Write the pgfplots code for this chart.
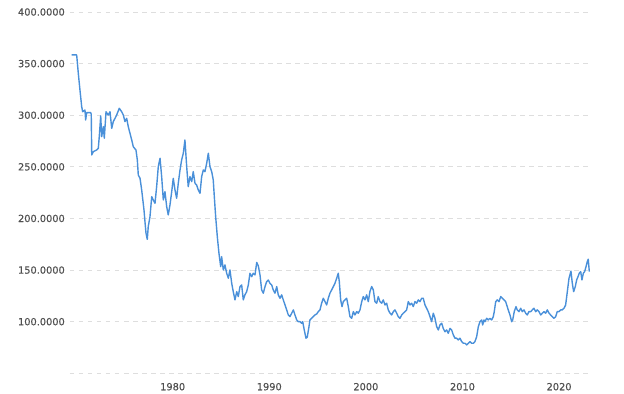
\documentclass[border=0pt]{standalone}
\usepackage{fontspec}
\setmainfont{DejaVu Sans}
\newfontfamily\ticksfont[FakeBold=0.35]{DejaVu Sans}
\usepackage{pgfplots}
\pgfplotsset{compat=1.18}
\definecolor{linecol}{RGB}{74,144,217}
\definecolor{gridcol}{RGB}{222,222,222}
\definecolor{textcol}{RGB}{80,80,80}
\begin{document}
\begin{tikzpicture}
\begin{axis}[
  scale only axis,
  width=519.3pt, height=361.3pt,
  xmin=1969.37, xmax=2023.13,
  ymin=50, ymax=400,
  axis line style={draw=none},
  tick style={draw=none},
  xtick={1980,1990,2000,2010,2020},
  xticklabels={1980,1990,2000,2010,2020},
  ytick={50,100,150,200,250,300,350,400},
  yticklabels={{},100.0000,150.0000,200.0000,250.0000,300.0000,350.0000,400.0000},
  ymajorgrids,
  major grid style={gridcol, line width=0.9pt, dash pattern=on 4.5pt off 4.5pt},
  ticklabel style={font=\ticksfont\fontsize{9.8}{12}\selectfont, text=textcol},
  yticklabel style={inner sep=0pt, anchor=east, xshift=-5pt},
  xticklabel style={inner sep=0pt, anchor=north, yshift=-9.5pt},
  clip=false,
]
\addplot[linecol, line width=1.4pt, line join=round] coordinates {
(1969.54,358.4)(1970.06,358.4)(1970.23,340.6)(1970.40,324.5)(1970.58,308.3)(1970.68,303.4)
(1970.92,305.0)(1970.99,295.4)(1971.10,302.5)(1971.51,302.5)(1971.57,301.0)(1971.62,261.5)
(1971.78,264.7)(1972.13,266.3)(1972.30,268.0)(1972.40,279.2)(1972.55,299.3)(1972.65,279.2)
(1972.82,289.0)(1972.92,277.7)(1973.10,303.4)(1973.33,300.2)(1973.51,303.4)(1973.69,287.3)
(1973.85,293.8)(1974.03,297.0)(1974.20,300.2)(1974.47,306.7)(1974.72,303.4)(1974.89,300.2)
(1975.06,293.8)(1975.24,297.0)(1975.40,289.0)(1975.58,282.5)(1975.76,276.0)(1975.92,269.5)
(1976.20,266.3)(1976.34,256.7)(1976.44,242.1)(1976.62,238.9)(1976.79,227.6)(1976.89,219.6)
(1977.03,208.2)(1977.16,193.7)(1977.24,185.6)(1977.37,179.8)(1977.47,192.0)(1977.65,201.7)
(1977.83,221.1)(1977.99,217.9)(1978.17,214.7)(1978.34,230.8)(1978.51,250.2)
(1978.69,258.3)(1978.86,240.5)(1979.03,217.9)(1979.20,226.0)(1979.38,211.4)(1979.54,203.4)
(1979.72,213.1)(1979.90,226.0)(1980.06,238.9)(1980.24,227.6)(1980.41,219.6)(1980.58,234.1)
(1980.76,247.0)(1980.93,256.7)(1981.10,263.2)(1981.27,276.0)(1981.45,250.2)(1981.61,230.8)
(1981.79,240.5)(1981.97,235.7)(1982.13,245.3)(1982.31,234.1)(1982.48,232.4)(1982.65,227.6)
(1982.83,224.4)(1983.00,240.5)(1983.17,247.0)(1983.34,245.3)(1983.52,253.4)(1983.69,263.2)
(1983.86,250.2)(1984.04,245.3)(1984.20,237.3)(1984.31,221.1)(1984.45,201.7)(1984.62,182.4)
(1984.79,166.3)(1984.97,153.3)(1985.07,163.0)(1985.24,150.1)(1985.41,155.0)(1985.59,146.9)
(1985.76,142.1)(1985.93,150.1)(1986.11,137.2)(1986.27,129.1)(1986.45,121.1)(1986.63,129.1)
(1986.79,124.3)(1986.97,134.0)(1987.14,135.6)(1987.31,121.1)(1987.48,126.0)(1987.66,129.1)
(1987.83,135.6)(1988.00,146.9)(1988.18,143.6)(1988.34,146.9)(1988.52,145.3)(1988.70,157.4)
(1988.86,154.2)(1989.04,145.3)
(1989.21,130.8)(1989.38,127.6)(1989.56,134.0)(1989.73,138.8)(1989.90,140.4)(1990.07,137.2)
(1990.25,135.6)(1990.41,130.8)(1990.59,127.6)(1990.77,134.0)(1990.93,126.0)(1991.11,122.7)
(1991.28,126.0)(1991.45,121.1)(1991.63,116.2)(1991.80,111.4)(1991.97,106.5)(1992.14,104.9)
(1992.32,108.2)(1992.49,111.4)(1992.66,106.5)(1992.84,101.7)(1993.00,100.0)(1993.18,100.0)
(1993.35,98.5)(1993.46,100.0)(1993.62,92.0)(1993.80,84.0)(1993.93,84.9)(1994.11,95.2)
(1994.21,101.7)(1994.39,103.3)(1994.56,104.9)(1994.73,106.5)(1994.91,107.5)(1995.07,109.7)
(1995.25,111.4)(1995.42,117.9)(1995.59,122.7)(1995.77,119.4)(1995.94,116.2)(1996.11,122.7)
(1996.28,127.6)(1996.46,130.8)(1996.63,134.0)(1996.80,137.2)(1996.98,142.1)(1997.14,146.9)
(1997.25,138.8)(1997.39,121.1)(1997.53,114.6)(1997.66,119.4)(1997.84,121.1)(1998.01,122.7)
(1998.18,114.6)(1998.35,104.9)(1998.53,103.3)(1998.70,109.7)(1998.87,106.5)(1999.05,109.7)
(1999.21,108.2)(1999.39,111.4)(1999.57,119.4)(1999.73,124.3)(1999.91,121.1)(2000.08,126.0)
(2000.25,119.4)(2000.42,129.1)(2000.60,134.0)(2000.77,130.8)(2000.94,119.4)(2001.12,117.9)
(2001.28,124.3)(2001.46,119.4)(2001.64,117.9)(2001.80,121.1)(2001.98,116.2)(2002.15,117.9)
(2002.32,111.4)(2002.50,108.2)(2002.67,106.5)(2002.84,109.7)(2003.01,111.4)(2003.19,108.2)
(2003.35,104.9)(2003.53,103.3)(2003.71,106.5)(2003.87,108.2)(2004.05,109.7)(2004.22,111.4)
(2004.39,119.4)(2004.57,116.2)(2004.74,117.9)(2004.91,114.6)(2005.08,119.4)(2005.26,117.9)
(2005.43,121.1)(2005.60,119.4)(2005.78,122.7)(2005.94,122.7)(2006.12,116.2)(2006.29,113.0)
(2006.46,109.7)(2006.64,104.9)(2006.81,100.0)(2006.98,108.2)(2007.15,103.3)(2007.33,95.2)
(2007.50,92.0)(2007.67,96.8)(2007.85,98.5)(2008.01,93.5)(2008.19,90.2)(2008.36,92.0)
(2008.53,88.8)(2008.71,93.5)(2008.88,92.0)(2009.05,87.2)(2009.22,84.0)(2009.40,84.0)
(2009.57,82.3)(2009.74,84.0)(2009.92,80.7)(2010.08,79.1)(2010.26,79.1)(2010.44,77.5)
(2010.60,79.1)(2010.78,80.7)(2010.95,79.1)(2011.12,79.1)(2011.29,80.7)(2011.47,85.5)
(2011.64,95.2)
(2011.81,100.0)(2011.99,101.7)(2012.09,96.8)(2012.23,101.7)(2012.33,100.0)(2012.51,103.3)
(2012.67,101.7)(2012.85,103.3)(2013.02,101.7)(2013.19,104.9)(2013.29,109.7)(2013.44,119.4)
(2013.60,121.1)(2013.78,119.4)(2013.96,124.3)(2014.12,122.7)(2014.30,121.1)(2014.47,119.4)
(2014.58,116.2)(2014.74,111.4)(2014.92,106.5)(2015.09,100.0)(2015.20,101.7)(2015.36,109.7)
(2015.54,114.6)(2015.67,111.4)(2015.85,109.7)(2016.03,113.0)(2016.19,109.7)(2016.37,111.4)
(2016.54,108.2)(2016.71,106.5)(2016.88,109.7)(2017.06,109.7)(2017.23,111.4)(2017.40,113.0)
(2017.58,109.7)(2017.74,111.4)(2017.92,109.7)(2018.10,106.5)(2018.26,108.2)(2018.44,109.7)
(2018.61,108.2)(2018.78,111.4)(2018.96,108.2)(2019.13,106.5)(2019.30,104.9)(2019.47,103.3)
(2019.65,104.9)(2019.81,109.7)(2019.99,109.7)(2020.17,111.4)(2020.33,111.4)(2020.51,113.0)
(2020.68,116.2)(2020.79,124.3)(2020.92,134.0)(2021.03,142.1)(2021.13,145.3)(2021.23,149.0)
(2021.37,137.2)(2021.51,129.1)(2021.68,134.0)(2021.82,140.4)(2021.96,143.6)(2022.09,146.9)
(2022.24,148.5)(2022.37,140.4)(2022.51,146.9)(2022.65,148.5)(2022.79,153.3)(2022.92,158.2)
(2023.02,160.5)(2023.13,148.5)
};
\end{axis}
\pgfresetboundingbox
\path[use as bounding box] ([shift={(-70pt,-20.7pt)}]current axis.south west) rectangle ([shift={(34.7pt,12pt)}]current axis.north east);
\end{tikzpicture}
\end{document}
